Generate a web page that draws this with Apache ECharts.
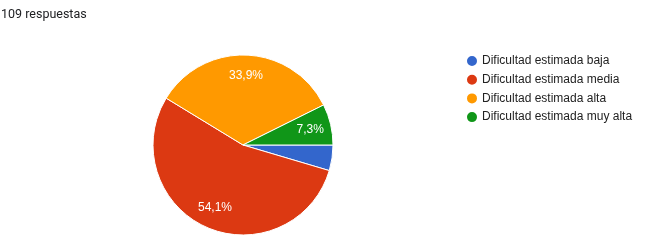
<!DOCTYPE html>
<html>
<head>
<meta charset="utf-8">
<script src="https://cdn.jsdelivr.net/npm/echarts@6/dist/echarts.min.js"></script>
<style>html,body{margin:0;padding:0;background:#fff;}#c{width:646px;height:248px;}</style>
</head>
<body>
<div id="c"></div>
<script>
const categories = ['Dificultad estimada baja', 'Dificultad estimada media', 'Dificultad estimada alta', 'Dificultad estimada muy alta'];
const counts = [5, 59, 37, 8];
const colors = ['#3366cc', '#dc3912', '#ff9900', '#109618'];
const totalLabel = '109 respuestas';

const chart = echarts.init(document.getElementById('c'), null, {renderer: 'canvas'});
const total = counts.reduce((a, b) => a + b, 0);
const pieData = categories.map((n, i) => ({name: n, value: counts[i], itemStyle: {color: colors[i]}}));
const labelData = categories.map((n, i) => ({name: n, value: counts[i]}));
const fmt = p => {
  const pct = p.value / total * 100;
  if (pct < 5) return '';
  return pct.toFixed(1).replace('.', ',') + '%';
};
chart.setOption({
  animation: false,
  title: {
    text: totalLabel, left: 0, top: 8, padding: [0, 0, 0, 1],
    textStyle: {fontFamily: 'Roboto, Arial, sans-serif', fontSize: 12.5, fontWeight: 'normal', color: '#202124'}
  },
  legend: {
    orient: 'vertical', left: 465, top: 54, padding: 0,
    icon: 'circle', itemWidth: 12, itemHeight: 12, itemGap: 4.7,
    data: categories,
    textStyle: {fontFamily: 'Arial, "Liberation Sans", sans-serif', fontSize: 12, color: '#222222', lineHeight: 14, padding: [0, 0, 0, -1]}
  },
  series: [
    {
      type: 'pie', center: [243, 145], radius: 90, startAngle: 0, clockwise: true,
      data: pieData,
      label: {show: false}, labelLine: {show: false},
      itemStyle: {borderColor: '#ffffff', borderWidth: 1},
      emphasis: {disabled: true}
    },
    {
      type: 'pie', center: [243, 145], radius: 132, startAngle: 0, clockwise: true,
      data: labelData, silent: true,
      itemStyle: {color: 'rgba(0,0,0,0)'},
      label: {show: true, position: 'inside', formatter: fmt, color: '#ffffff',
        fontFamily: 'Arial, "Liberation Sans", sans-serif', fontSize: 12},
      labelLine: {show: false},
      emphasis: {disabled: true}
    }
  ]
});
</script>
</body>
</html>
